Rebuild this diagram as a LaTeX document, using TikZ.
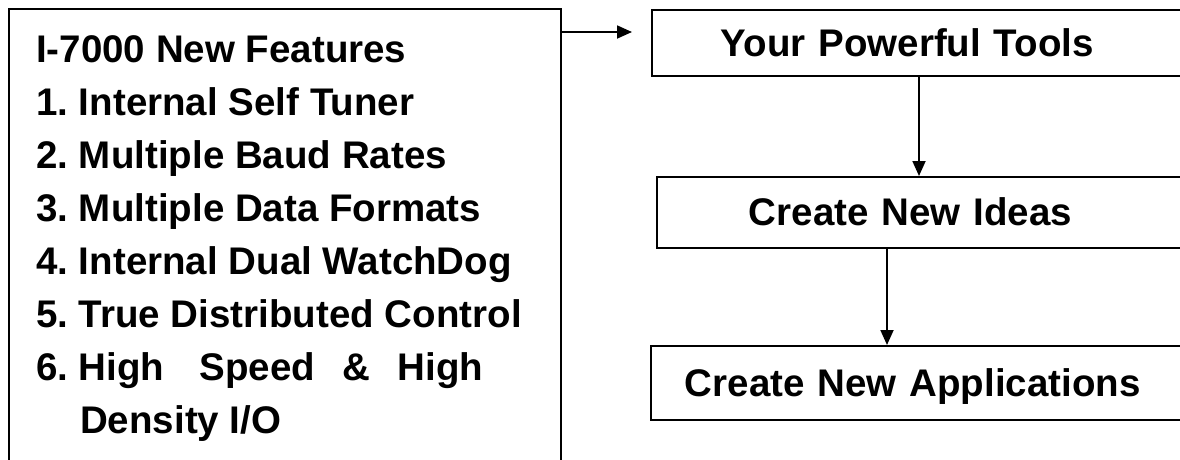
\documentclass[tikz,border=0pt]{standalone}
\usepackage{fontspec}
\setmainfont{Liberation Sans}
\usetikzlibrary{arrows.meta}

\begin{document}
\frenchspacing
\begin{tikzpicture}[x = 1pt, y = -1pt,
    font = \fontsize{38.5}{53}\selectfont\bfseries,
    frame/.style = {draw, line width = 1.8pt, anchor = north west},
    box/.style = {frame, inner ysep = 0pt, text height = 27pt, text depth = 0pt, align = left, text width = 520pt},
    flow/.style = {-{Triangle[length = 15pt, width = 13pt]}, line width = 1.8pt}]

    \useasboundingbox (0,0) rectangle (1180,459);
    \clip (0,0) rectangle (1180,459);

    \node (features) [frame, minimum width = 552pt, minimum height = 480pt, inner sep = 0pt] at (8,8) {};
    \node (list) [anchor = north west, inner sep = 0pt, align = left] at (36,35)
      {I-7000 New Features\\
       1. Internal Self Tuner\\
       2. Multiple Baud Rates\\
       3. Multiple Data Formats\\
       4. Internal Dual WatchDog\\
       5. True Distributed Control\\
       6. High\hspace*{35pt}Speed\hspace*{27pt}\&\hspace*{28pt}High\\
       \hspace*{44pt}Density I/O};

    \node (tools) [box, inner xsep = 69pt, minimum height = 66pt] at (651,9) {Your Powerful Tools};
    \node (ideas) [box, inner xsep = 92pt, minimum height = 71pt] at (656,176) {Create New Ideas};
    \node (apps) [box, inner xsep = 34pt, minimum height = 74pt] at (650,345) {Create New Applications};

    \draw [flow, shorten > = 19pt] (features.east |- 0,32) -- (tools.west |- 0,32);
    \draw [flow] (tools.south -| 919,0) -- (ideas.north -| 919,0);
    \draw [flow] (ideas.south -| 887,0) -- (apps.north -| 887,0);

\end{tikzpicture}
\end{document}
